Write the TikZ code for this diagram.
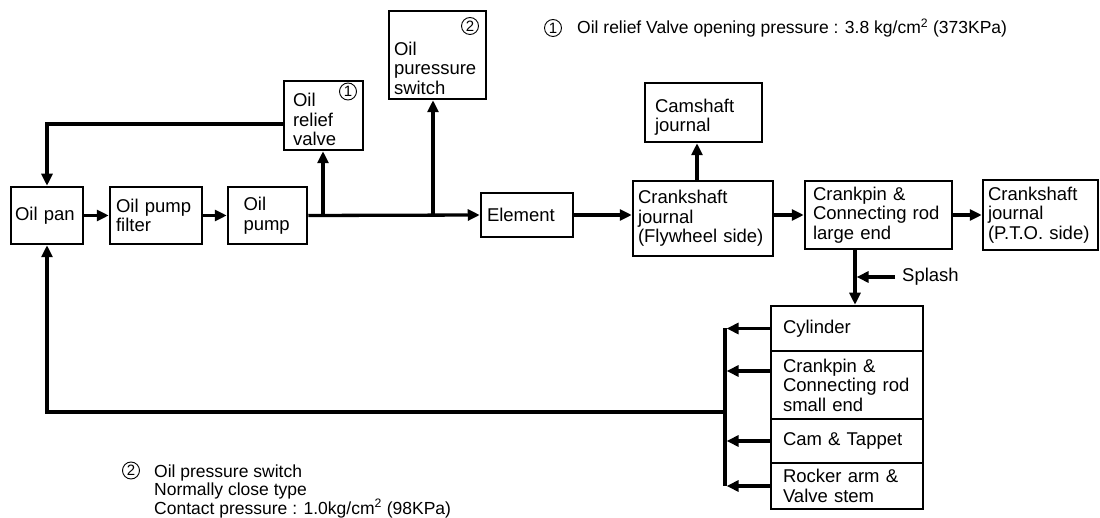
\documentclass[tikz,border=0pt]{standalone}
\usepackage{fontspec}
\setmainfont{Liberation Sans}
\usetikzlibrary{arrows.meta,calc}
\newcommand{\boxfont}{\fontsize{18.5}{19.5}\selectfont}
\newcommand{\notefont}{\fontsize{17.5}{18.5}\selectfont}
\newcommand{\lift}[1]{\rule{0pt}{#1}}

\tikzset{
  box/.style n args={3}{draw, line width=2.5pt, align=left, inner ysep=0pt,
    font=\boxfont, text width=#1, minimum height=#2, inner xsep=#3},
  flow/.style={line width=3.3pt, -{Triangle[length=12pt,width=11pt]}},
  bar/.style={line width=3.3pt},
  num/.style={circle, draw, line width=0.9pt, inner sep=0pt, minimum size=17pt,
    font=\fontsize{15}{15}\selectfont},
}

\begin{document}
\begin{tikzpicture}[x=1pt,y=-1pt]
\useasboundingbox (0,0) rectangle (1100,518);
\clip (0,0) rectangle (1100,518);

\node[box={64pt}{57pt}{4pt}] (pan) at (47,215.5) {Oil pan};
\node[box={80pt}{57pt}{6pt}] (filter) at (156,215.5) {Oil pump\\filter};
\node[box={48pt}{57pt}{15.5pt}] (pump) at (267.5,215.5) {Oil\\pump};
\node[box={61pt}{69pt}{9pt}] (relief) at (323.5,115.5) {\lift{22pt}Oil\\relief\\valve};
\node[box={87pt}{88pt}{5pt}] (switch) at (437.5,55) {\lift{40pt}Oil\\puressure\\switch};
\node[box={80pt}{44pt}{6pt}] (element) at (527,215) {Element};
\node[box={97pt}{59pt}{10pt}] (cam) at (703.5,112.5) {\lift{22.5pt}Camshaft\\journal};
\node[box={130pt}{75pt}{5pt}] (crankfw) at (703,218.5) {Crankshaft\\journal\\(Flywheel side)};
\node[box={131pt}{68pt}{8pt}] (crankbig) at (878.5,215) {Crankpin \&\\Connecting rod\\large end};
\node[box={105pt}{70pt}{5pt}] (pto) at (1040.5,215) {Crankshaft\\journal\\(P.T.O. side)};

\node[box={128pt}{45pt}{12pt}] (cyl) at (847,328.5) {Cylinder};
\node[box={128pt}{68pt}{12pt}] (pin) at (847,385) {Crankpin \&\\Connecting rod\\small end};
\node[box={128pt}{44pt}{12pt}] (tappet) at (847,441) {Cam \& Tappet};
\node[box={128pt}{46pt}{12pt}] (rocker) at (847,486) {Rocker arm \&\\Valve stem};

\node[num] (n1relief) at (348,91.5) {1};
\node[num] (n2switch) at (470,26) {2};

\coordinate (jrelief) at (323,215);
\coordinate (jswitch) at (433,215);
\coordinate (bus) at (725,412);

\draw[flow] (pan.east) -- (filter.west);
\draw[flow] (filter.west -| filter.east) -- (pump.west);
\draw[flow] (pump.east) -- (element.west);
\draw[flow] (jrelief) -- (jrelief |- relief.south);
\draw[flow] (jswitch) -- (jswitch |- switch.south);
\draw[flow] ([yshift=-8.5pt]relief.west) -| (pan.north);

\draw[flow] (element.east) -- (element.east -| crankfw.west);
\draw[flow] ([xshift=-6pt]crankfw.north) -- ([xshift=-6pt]crankfw.north |- cam.south);
\draw[flow] (element.east -| crankfw.east) -- (crankbig.west);
\draw[flow] (crankbig.east) -- (pto.west);

\draw[flow] ([xshift=-23.5pt]crankbig.south) coordinate (dn) -- (dn |- cyl.north);
\node[font=\boxfont, anchor=west, inner sep=0pt] (splash) at (902,277) {Splash};
\draw[flow, shorten >=1.6pt] ([xshift=-7pt]splash.west) -- (splash.west -| dn);

\draw[bar] (cyl.west -| bus) -- (rocker.west -| bus);
\draw[flow, shorten >=1.6pt] (cyl.west) -- (cyl.west -| bus);
\draw[flow, shorten >=1.6pt] ([yshift=14pt]pin.west) -- ([yshift=14pt]pin.west -| bus);
\draw[flow, shorten >=1.6pt] (tappet.west) -- (tappet.west -| bus);
\draw[flow, shorten >=1.6pt] (rocker.west) -- (rocker.west -| bus);
\draw[flow] (bus) -| (pan.south);

\node[num] (n1note) at (553,28) {1};
\node[font=\notefont, anchor=base west, inner sep=0pt] (note1) at (577,34)
  {Oil relief Valve opening pressure : 3.8 kg/cm\textsuperscript{2} (373KPa)};
\node[num] (n2note) at (131,470.5) {2};
\node[font=\notefont, anchor=base west, align=left, inner sep=0pt] (note2) at (154,514)
  {Oil pressure switch\\Normally close type\\Contact pressure : 1.0kg/cm\textsuperscript{2} (98KPa)};

\end{tikzpicture}
\end{document}
